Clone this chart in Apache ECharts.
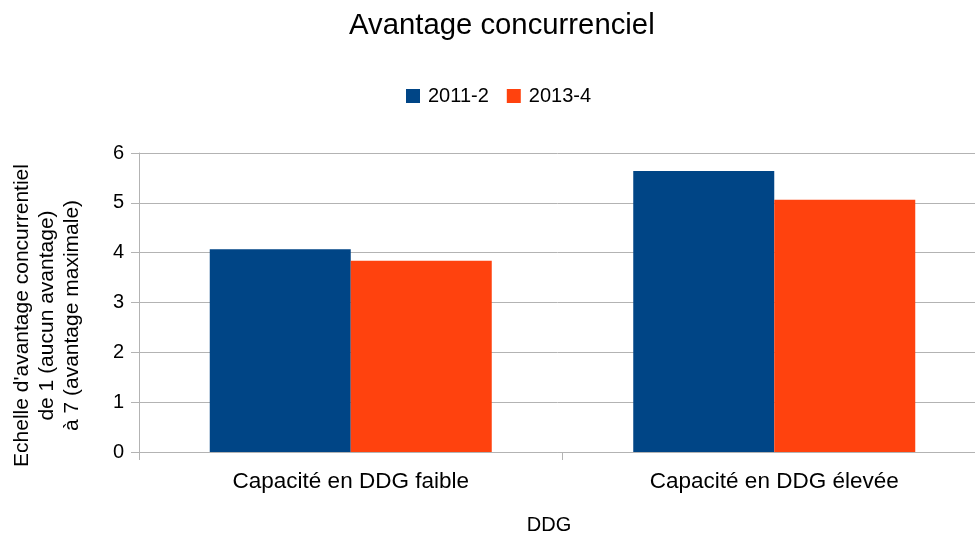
<!DOCTYPE html>
<html>
<head>
<meta charset="utf-8">
<script src="https://cdn.jsdelivr.net/npm/echarts@6/dist/echarts.min.js"></script>
<style>html,body{margin:0;padding:0;background:#fff}#c{width:975px;height:534px}</style>
</head>
<body>
<div id="c"></div>
<script>
const categories = ['Capacité en DDG faible', 'Capacité en DDG élevée'];
const seriesNames = ['2011-2', '2013-4'];
const values2011 = [4.07, 5.64];
const values2013 = [3.84, 5.06];
const yTicks = [0, 1, 2, 3, 4, 5, 6];

const FONT = 'Liberation Sans';
const chart = echarts.init(document.getElementById('c'), null, {renderer: 'canvas'});
chart.setOption({
  backgroundColor: '#ffffff',
  animation: false,
  textStyle: {fontFamily: FONT, color: '#000'},
  title: {
    text: 'Avantage concurrenciel',
    left: 344,
    top: 6,
    textStyle: {fontFamily: FONT, fontSize: 29.3, fontWeight: 'normal', color: '#000'}
  },
  legend: {
    data: seriesNames,
    left: 401,
    top: 81,
    itemWidth: 14,
    itemHeight: 14,
    itemGap: 18,
    icon: 'rect',
    textStyle: {fontFamily: FONT, fontSize: 20, color: '#000', padding: [0, 0, 0, 3]}
  },
  grid: {left: 139, width: 847, top: 153, height: 299, containLabel: false, outerBoundsMode: 'none'},
  xAxis: {
    type: 'category',
    data: categories,
    name: 'DDG',
    nameLocation: 'middle',
    nameGap: 63,
    nameTextStyle: {fontFamily: FONT, fontSize: 20, color: '#000', padding: [0, 27, 0, 0]},
    axisLine: {show: true, lineStyle: {color: '#b3b3b3', width: 1}},
    axisTick: {show: true, length: 8, lineStyle: {color: '#b3b3b3'}},
    axisLabel: {fontFamily: FONT, fontSize: 22.5, color: '#000', margin: 18}
  },
  yAxis: {
    type: 'value',
    min: yTicks[0],
    max: yTicks[yTicks.length - 1],
    interval: 1,
    name: "Echelle d'avantage concurrentiel\nde 1 (aucun avantage)\nà 7 (avantage maximale)",
    nameLocation: 'middle',
    nameGap: 54,
    nameRotate: 90,
    nameTextStyle: {fontFamily: FONT, fontSize: 21, color: '#000', lineHeight: 25, align: 'center', padding: [0, 26, 0, 0]},
    axisLine: {show: true, lineStyle: {color: '#b3b3b3', width: 1}},
    axisTick: {show: true, length: 8, lineStyle: {color: '#b3b3b3'}},
    axisLabel: {fontFamily: FONT, fontSize: 20, color: '#000', margin: 15},
    splitLine: {show: true, lineStyle: {color: '#b3b3b3', width: 1}}
  },
  series: [
    {name: seriesNames[0], type: 'bar', data: values2011, barWidth: 141, barGap: '0%', itemStyle: {color: '#004586'}},
    {name: seriesNames[1], type: 'bar', data: values2013, barWidth: 141, barGap: '0%', itemStyle: {color: '#ff420e'}}
  ]
});
</script>
</body>
</html>
